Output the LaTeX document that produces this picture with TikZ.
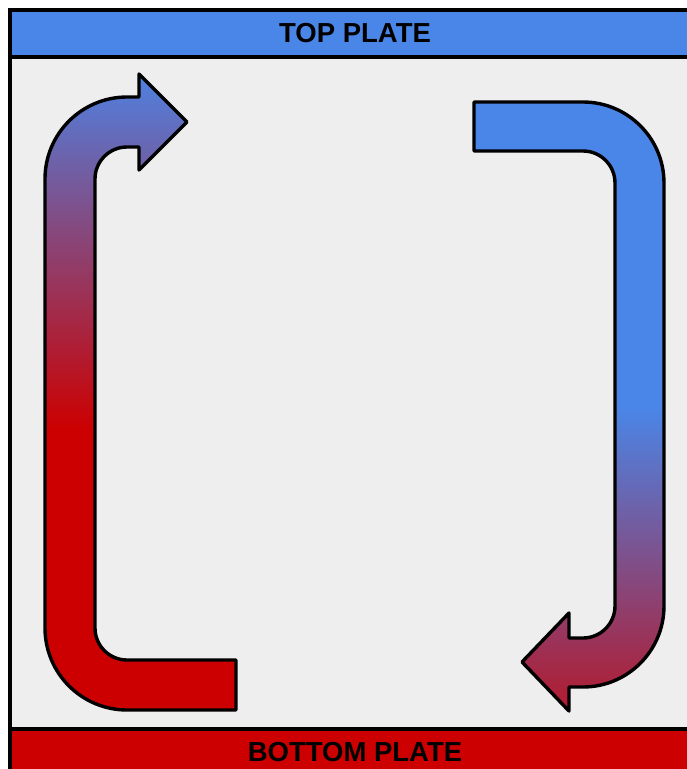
\documentclass[tikz,border=0pt]{standalone}
\usepackage{fontspec}
\setmainfont{Liberation Sans}
\usepackage{tikz}
\usetikzlibrary{positioning}
\usepackage{xcolor}
\definecolor{plateblue}{HTML}{4a86e8}
\definecolor{platered}{HTML}{cc0000}
\definecolor{chamber}{HTML}{eeeeee}
\pgfdeclareverticalshading{risingflow}{100bp}{color(0bp)=(platered); color(47bp)=(platered); color(76bp)=(plateblue); color(100bp)=(plateblue)}
\pgfdeclareverticalshading{sinkingflow}{100bp}{color(0bp)=(platered); color(19bp)=(platered); color(50bp)=(plateblue); color(100bp)=(plateblue)}
\begin{document}
\begin{tikzpicture}[x=1pt,y=-1pt,
   plate/.style={draw,line width=3.5pt,minimum width=690pt,minimum height=47pt,inner sep=0pt,
     font=\fontsize{27.5}{30}\selectfont\bfseries,text=black},
   flow/.style={draw,line width=3.4pt,line join=round}]
  \useasboundingbox (0,0) rectangle (687,769);
  \clip (0,0) rectangle (687,769);
  \fill[white] (0,0) rectangle (687,769);
  \fill[chamber] (10,10) rectangle (700,776);
  \node[plate,fill=plateblue] (top) at (355,33.5) {TOP PLATE};
  \node[plate,fill=platered] (bottom) at (355,752.5) {BOTTOM PLATE};
  \draw[line width=3.5pt] (10,10) rectangle (700,776);
  \path[flow,shading=risingflow] (236,660) -- (127,660)
    arc[start angle=90,end angle=180,radius=32] -- (95,179)
    arc[start angle=180,end angle=270,radius=32] -- (139,147) -- (139,170) -- (187,122)
    -- (139,74) -- (139,97) -- (127,97)
    arc[start angle=270,end angle=180,radius=82] -- (45,628)
    arc[start angle=180,end angle=90,radius=82] -- (236,710) -- cycle;
  \path[flow,shading=sinkingflow] (474,102) -- (583,102)
    arc[start angle=270,end angle=360,radius=81] -- (664,606)
    arc[start angle=0,end angle=90,radius=81] -- (569,687) -- (569,711) -- (522,662)
    -- (569,613) -- (569,638) -- (583,638)
    arc[start angle=90,end angle=0,radius=32] -- (615,183)
    arc[start angle=0,end angle=-90,radius=32] -- (474,151) -- cycle;
\end{tikzpicture}
\end{document}
